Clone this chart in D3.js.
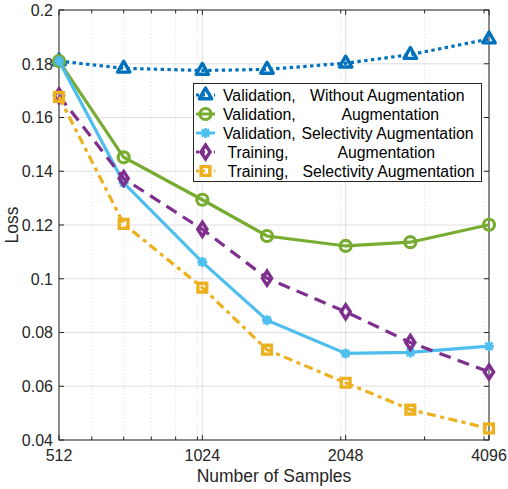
<!DOCTYPE html>
<html>
<head>
<meta charset="utf-8">
<script src="https://cdn.jsdelivr.net/npm/d3@7/dist/d3.min.js"></script>
<style>
  html, body { margin: 0; padding: 0; background: #fff; }
  svg { display: block; font-family: "Liberation Sans", Arial, sans-serif; }
</style>
</head>
<body>
<div id="chart"></div>
<script>
const W = 508, H = 489;
const PLOT = { left: 59, right: 489, top: 10, bottom: 440 };

// data
const SAMPLES = [512, 700, 1024, 1400, 2048, 2800, 4096];
const VAL_NO_AUG = [0.181, 0.1783, 0.1775, 0.1779, 0.1802, 0.1834, 0.1892];
const VAL_AUG = [0.181, 0.1452, 0.1294, 0.1159, 0.1122, 0.1136, 0.1201];
const VAL_SEL_AUG = [0.181, 0.1357, 0.1062, 0.0846, 0.0722, 0.0726, 0.0749];
const TRAIN_AUG = [0.1681, 0.1373, 0.1184, 0.1002, 0.0877, 0.0763, 0.0653];
const TRAIN_SEL_AUG = [0.1677, 0.1204, 0.0967, 0.0736, 0.0613, 0.0513, 0.0443];

const X_TICKS = [512, 1024, 2048, 4096];
const X_MINOR = [600, 700, 800, 900, 1000, 2000, 3000, 4000];
const Y_TICKS = [0.04, 0.06, 0.08, 0.1, 0.12, 0.14, 0.16, 0.18, 0.2];

const SERIES = [
  { name: "Validation,", tag: "Without Augmentation", values: VAL_NO_AUG, color: "#0072BD", dash: "3.4,3.4", marker: "triangle" },
  { name: "Validation,", tag: "Augmentation", values: VAL_AUG, color: "#77AC30", dash: null, marker: "circle" },
  { name: "Validation,", tag: "Selectivity Augmentation", values: VAL_SEL_AUG, color: "#4DBEEE", dash: null, marker: "star" },
  { name: "Training,", tag: "Augmentation", values: TRAIN_AUG, color: "#7E2F8E", dash: "12,7.5", marker: "diamond" },
  { name: "Training,", tag: "Selectivity Augmentation", values: TRAIN_SEL_AUG, color: "#EDB120", dash: "9,4.5,4,4.5", marker: "square" },
];

// legend text layout (x of name / tag)
const LEGEND_POS = [
  { nx: 223, tx: 310 },
  { nx: 223, tx: 341.5 },
  { nx: 223, tx: 301.5 },
  { nx: 227.5, tx: 337.5 },
  { nx: 227.5, tx: 302.5 },
];

const MARKERS = {
  triangle: "M0,-7L6.2,3.8L-6.2,3.8Z",
  diamond: "M0,-7L4.6,0L0,7L-4.6,0Z",
  square: "M-4.4,-4.4H4.4V4.4H-4.4Z",
  star: "M-5,0H5M0,-5V5M-3.6,-3.6L3.6,3.6M-3.6,3.6L3.6,-3.6",
};

const x = d3.scaleLog().base(2).domain([512, 4096]).range([PLOT.left, PLOT.right]);
const y = d3.scaleLinear().domain([0.04, 0.2]).range([PLOT.bottom, PLOT.top]);

const svg = d3.select("#chart").append("svg").attr("width", W).attr("height", H);
const AX = "#262626";

// grid
const grid = svg.append("g");
grid.selectAll("line.gy").data(Y_TICKS).enter().append("line")
  .attr("x1", PLOT.left).attr("x2", PLOT.right)
  .attr("y1", (d) => y(d)).attr("y2", (d) => y(d))
  .attr("stroke", AX).attr("stroke-opacity", 0.15).attr("stroke-width", 1);
grid.selectAll("line.gxm").data(X_MINOR).enter().append("line")
  .attr("x1", (d) => x(d)).attr("x2", (d) => x(d))
  .attr("y1", PLOT.top).attr("y2", PLOT.bottom)
  .attr("stroke", AX).attr("stroke-opacity", 0.25).attr("stroke-width", 0.6)
  .attr("stroke-dasharray", "1,2");
grid.selectAll("line.gx").data(X_TICKS).enter().append("line")
  .attr("x1", (d) => x(d)).attr("x2", (d) => x(d))
  .attr("y1", PLOT.top).attr("y2", PLOT.bottom)
  .attr("stroke", AX).attr("stroke-opacity", 0.15).attr("stroke-width", 1);

// axes box + inward ticks
const axes = svg.append("g").attr("stroke", AX).attr("stroke-width", 1).attr("fill", "none");
axes.append("rect")
  .attr("x", PLOT.left).attr("y", PLOT.top)
  .attr("width", PLOT.right - PLOT.left).attr("height", PLOT.bottom - PLOT.top);
Y_TICKS.forEach((v) => {
  axes.append("line").attr("x1", PLOT.left).attr("x2", PLOT.left + 5).attr("y1", y(v)).attr("y2", y(v));
  axes.append("line").attr("x1", PLOT.right).attr("x2", PLOT.right - 5).attr("y1", y(v)).attr("y2", y(v));
});
X_TICKS.forEach((v) => {
  axes.append("line").attr("x1", x(v)).attr("x2", x(v)).attr("y1", PLOT.bottom).attr("y2", PLOT.bottom - 5);
  axes.append("line").attr("x1", x(v)).attr("x2", x(v)).attr("y1", PLOT.top).attr("y2", PLOT.top + 5);
});
X_MINOR.forEach((v) => {
  axes.append("line").attr("x1", x(v)).attr("x2", x(v)).attr("y1", PLOT.bottom).attr("y2", PLOT.bottom - 3.5);
  axes.append("line").attr("x1", x(v)).attr("x2", x(v)).attr("y1", PLOT.top).attr("y2", PLOT.top + 3.5);
});

// tick labels
svg.append("g").selectAll("text").data(Y_TICKS).enter().append("text")
  .attr("x", PLOT.left - 6).attr("y", (d) => y(d) + 5.8)
  .attr("text-anchor", "end").attr("font-size", 16).attr("fill", AX)
  .text((d) => String(+d.toFixed(2)));
svg.append("g").selectAll("text").data(X_TICKS).enter().append("text")
  .attr("x", (d) => x(d)).attr("y", PLOT.bottom + 20.5)
  .attr("text-anchor", "middle").attr("font-size", 16).attr("fill", AX)
  .text((d) => d);

svg.append("text")
  .attr("x", (PLOT.left + PLOT.right) / 2).attr("y", 481.5)
  .attr("text-anchor", "middle").attr("font-size", 17.5).attr("fill", AX)
  .text("Number of Samples");
svg.append("text")
  .attr("transform", `translate(17.5,${(PLOT.top + PLOT.bottom) / 2}) rotate(-90)`)
  .attr("text-anchor", "middle").attr("font-size", 17.5).attr("fill", AX)
  .text("Loss");

function drawMarker(g, type, color) {
  if (type === "circle") {
    g.append("circle").attr("r", 5.5).attr("fill", "none").attr("stroke", color).attr("stroke-width", 3.2);
  } else {
    g.append("path").attr("d", MARKERS[type]).attr("fill", "none")
      .attr("stroke", color).attr("stroke-width", type === "star" ? 2.6 : 3.4)
      .attr("stroke-linejoin", type === "triangle" ? "round" : "miter");
  }
}

// series
const line = d3.line().x((d) => x(d[0])).y((d) => y(d[1]));
SERIES.forEach((s) => {
  const pts = SAMPLES.map((n, i) => [n, s.values[i]]);
  const g = svg.append("g");
  g.append("path").attr("d", line(pts)).attr("fill", "none")
    .attr("stroke", s.color).attr("stroke-width", 3.2)
    .attr("stroke-dasharray", s.dash);
  pts.forEach((p) => {
    drawMarker(g.append("g").attr("transform", `translate(${x(p[0])},${y(p[1])})`), s.marker, s.color);
  });
});

// legend
const lg = svg.append("g");
lg.append("rect").attr("x", 193.5).attr("y", 83.5).attr("width", 288).attr("height", 98)
  .attr("fill", "#fff").attr("stroke", AX).attr("stroke-width", 1);
SERIES.forEach((s, i) => {
  const cy = 95 + i * 19;
  const row = lg.append("g");
  row.append("line").attr("x1", 196).attr("x2", 215).attr("y1", cy).attr("y2", cy)
    .attr("stroke", s.color).attr("stroke-width", 3).attr("stroke-dasharray", s.dash ? "3,3" : null);
  drawMarker(row.append("g").attr("transform", `translate(205.5,${cy})`), s.marker, s.color);
  row.append("text").attr("x", LEGEND_POS[i].nx).attr("y", cy + 5.5)
    .attr("font-size", 15.8).attr("fill", "#000").text(s.name);
  row.append("text").attr("x", LEGEND_POS[i].tx).attr("y", cy + 5.5)
    .attr("font-size", 15.8).attr("fill", "#000").text(s.tag);
});
</script>
</body>
</html>
